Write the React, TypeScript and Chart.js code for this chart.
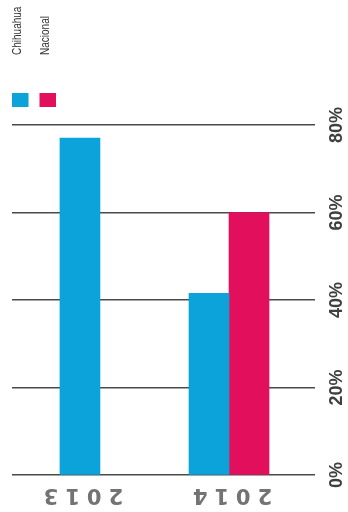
import React, { useEffect, useRef } from 'react';
import { Chart, registerables } from 'chart.js';

Chart.register(...registerables);

const categories = ['2013', '2014'];
const seriesNames = ['Chihuahua', 'Nacional'];
const chihuahua: (number | null)[] = [77, 41.5];
const nacional: (number | null)[] = [null, 60];
const seriesColors = ['#0ca3da', '#e2105c'];
const valueMin = 0;
const valueMax = 80;
const valueStep = 20;

const textPlugin = {
  id: 'rotatedText',
  afterDraw(chart: any) {
    const ctx: CanvasRenderingContext2D = chart.ctx;
    const xs = chart.scales.x;
    const ys = chart.scales.y;
    const area = chart.chartArea;

    // value-axis labels, reading bottom-to-top
    ctx.save();
    ctx.fillStyle = '#3f3f3f';
    ctx.font = 'bold 18px "Liberation Sans", Arial, sans-serif';
    ctx.textAlign = 'center';
    ctx.textBaseline = 'middle';
    ys.ticks.forEach((t: any) => {
      const py = ys.getPixelForValue(t.value);
      ctx.save();
      ctx.translate(area.right + 22, py);
      ctx.rotate(-Math.PI / 2);
      ctx.fillText(String(t.label ?? `${t.value}%`), 0, 0);
      ctx.restore();
    });
    ctx.restore();

    // category labels, upside-down
    ctx.save();
    ctx.fillStyle = '#737373';
    ctx.font = 'bold 21px "DejaVu Sans", sans-serif';
    (ctx as any).letterSpacing = '7px';
    ctx.textAlign = 'center';
    ctx.textBaseline = 'middle';
    categories.forEach((c, i) => {
      const px = xs.getPixelForValue(i);
      ctx.save();
      ctx.translate(px, area.bottom + 19);
      ctx.rotate(Math.PI);
      ctx.fillText(c, 0, 0);
      ctx.restore();
    });
    ctx.restore();

    // legend, rotated
    ctx.save();
    ctx.font = '12.5px "Liberation Sans", Arial, sans-serif';
    chart.data.datasets.forEach((ds: any, i: number) => {
      const x0 = 12 + i * 27.5;
      ctx.fillStyle = ds.backgroundColor;
      ctx.fillRect(x0, 93, 16.5, 14);
      ctx.fillStyle = '#333333';
      ctx.save();
      ctx.translate(x0 - 0.5, 55);
      ctx.rotate(-Math.PI / 2);
      ctx.scale(0.8, 1);
      ctx.textAlign = 'left';
      ctx.textBaseline = 'top';
      ctx.fillText(ds.label, 0, 0);
      ctx.restore();
    });
    ctx.restore();
  },
};

export default function App() {
  const ref = useRef<HTMLCanvasElement | null>(null);
  useEffect(() => {
    if (!ref.current) return;
    const chart = new Chart(ref.current, {
      type: 'bar',
      data: {
        datasets: [
          {
            label: seriesNames[0],
            data: chihuahua.map((v, i) => ({ x: i, y: v })) as any,
            backgroundColor: seriesColors[0],
          },
          {
            label: seriesNames[1],
            data: nacional.map((v, i) => ({ x: i, y: v })) as any,
            backgroundColor: seriesColors[1],
          },
        ],
      },
      options: {
        responsive: false,
        animation: false,
        layout: { padding: { left: 12, right: 33, top: 125, bottom: 37 } },
        plugins: { legend: { display: false }, tooltip: { enabled: false } },
        datasets: { bar: { barThickness: 40, skipNull: true, borderWidth: 0 } as any },
        scales: {
          x: {
            type: 'linear',
            display: false,
            offset: false,
            min: -0.456,
            max: 1.577,
            grid: { offset: false },
          },
          y: {
            position: 'right',
            min: valueMin,
            max: valueMax,
            ticks: { display: false, stepSize: valueStep, callback: (v: any) => `${v}%` },
            grid: { color: '#4a4a4a', lineWidth: 1.4, drawTicks: false },
            border: { display: false },
          },
        },
      },
      plugins: [textPlugin],
    });
    return () => chart.destroy();
  }, []);
  return (
    <div style={{ position: 'fixed', left: 0, top: 0, width: 348, height: 512, background: '#fff' }}>
      <canvas ref={ref} width={348} height={512} style={{ width: 348, height: 512, display: 'block' }} />
    </div>
  );
}
